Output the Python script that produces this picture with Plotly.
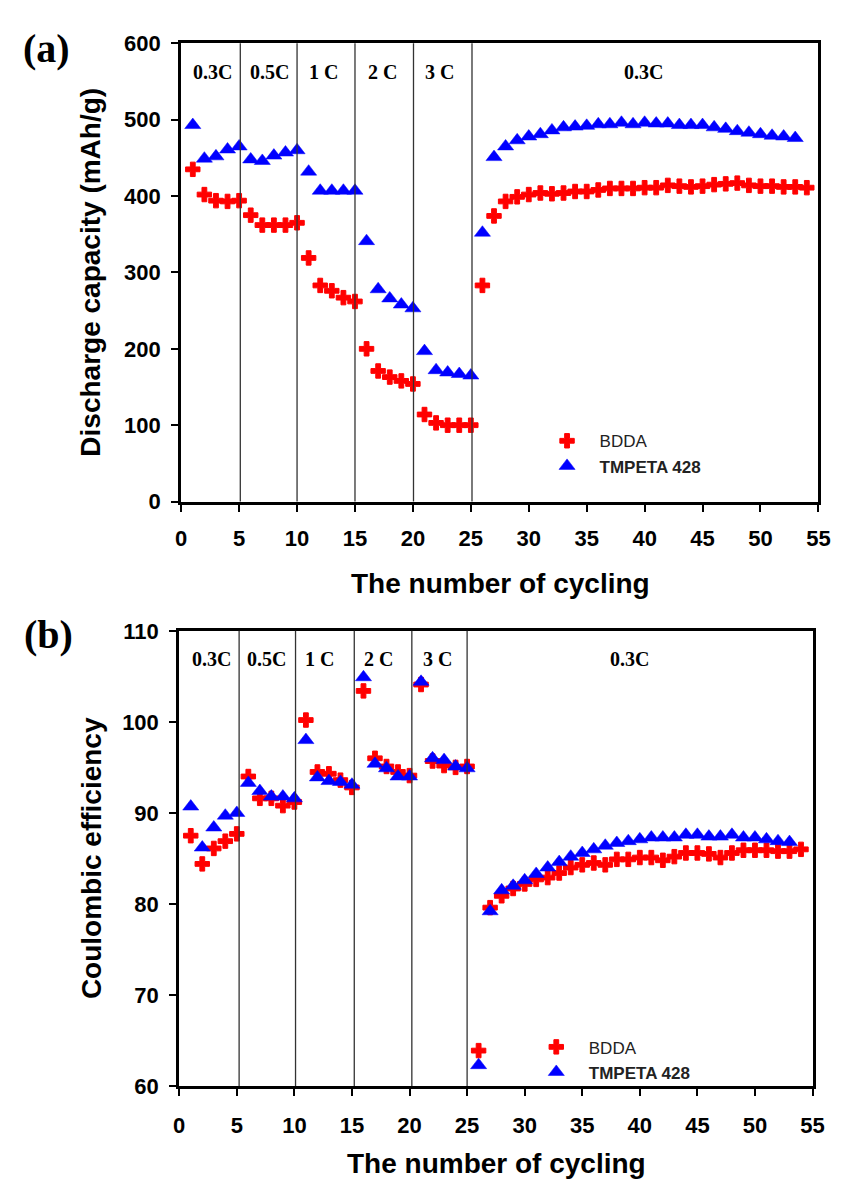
import plotly.graph_objects as go

# Cycle numbers
cycles_bdda = list(range(1, 55))
cycles_tmpeta = list(range(1, 54))

# (a) Discharge capacity, mAh/g
bdda_capacity = [435, 402, 394, 393, 394, 375, 362, 362, 362, 365,
                 319, 283, 276, 267, 262, 200, 171, 163, 158, 154,
                 114, 103, 100, 100, 100, 283, 374, 393, 399, 402,
                 404, 403, 404, 406, 406, 408, 410, 410, 410, 411,
                 411, 414, 413, 412, 413, 415, 416, 417, 414, 413,
                 413, 412, 412, 411]
tmpeta_capacity = [493, 449, 452, 461, 465, 448, 446, 453, 457, 460,
                   432, 407, 407, 407, 407, 341, 278, 266, 258, 253,
                   197, 172, 169, 167, 165, 352, 451, 465, 473, 478,
                   481, 486, 490, 491, 492, 494, 494, 496, 494, 496,
                   495, 495, 493, 493, 493, 490, 488, 485, 483, 481,
                   479, 478, 476]

# (b) Coulombic efficiency, %
bdda_ce = [87.5, 84.4, 86.1, 86.9, 87.7, 94.0, 91.6, 91.6, 90.8, 91.2,
           100.2, 94.5, 94.3, 93.6, 92.8, 103.4, 96.0, 95.1, 94.5, 94.1,
           104.1, 95.7, 95.2, 95.0, 95.1, 63.9, 79.6, 80.9, 81.7, 82.2,
           82.7, 82.9, 83.4, 84.0, 84.3, 84.5, 84.3, 84.9, 84.9, 85.1,
           85.1, 84.8, 85.2, 85.6, 85.6, 85.5, 85.1, 85.6, 85.9, 85.9,
           85.9, 85.8, 85.8, 86.0]
tmpeta_ce = [90.7, 86.2, 88.4, 89.7, 90.0, 93.3, 92.4, 91.8, 91.8, 91.6,
             98.0, 93.9, 93.5, 93.4, 93.1, 104.9, 95.4, 94.9, 94.0, 94.0,
             104.4, 96.0, 95.8, 95.1, 94.9, 62.3, 79.2, 81.5, 82.0, 82.6,
             83.3, 84.0, 84.6, 85.2, 85.6, 86.0, 86.4, 86.7, 86.9, 87.1,
             87.3, 87.3, 87.3, 87.6, 87.6, 87.4, 87.4, 87.6, 87.3, 87.3,
             87.1, 86.9, 86.8]

# C-rate steps
rate_labels = ["0.3C", "0.5C", "1 C", "2 C", "3 C", "0.3C"]
rate_label_x_a = [2.7, 7.6, 12.3, 17.4, 22.3, 39.9]
rate_label_x_b = [2.8, 7.6, 12.2, 17.3, 22.4, 39.1]
step_bounds_a = [5.1, 10.0, 15.0, 20.05, 25.1]
step_bounds_b = [5.2, 10.1, 15.2, 20.2, 25.0]

x_ticks = list(range(0, 56, 5))
cap_ticks = list(range(0, 601, 100))
ce_ticks = list(range(60, 111, 10))

W, H = 849, 1198
RED, BLUE = "#FF0000", "#0000FF"
SANS = "Arial, Liberation Sans, sans-serif"
SERIF = "Times New Roman, Liberation Serif, serif"


def px_x(p):
    return p / W


def px_y(p):
    return 1 - p / H


fig = go.Figure()

red_marker = dict(symbol="cross", size=12, color=RED, line=dict(color=RED, width=1))
blue_marker = dict(symbol="triangle-up", size=14, color=BLUE, line=dict(color=BLUE, width=0.5))

fig.add_trace(go.Scatter(x=cycles_bdda, y=bdda_capacity, mode="markers", name="BDDA",
                         marker=red_marker, xaxis="x", yaxis="y", legend="legend"))
fig.add_trace(go.Scatter(x=cycles_tmpeta, y=tmpeta_capacity, mode="markers",
                         name="<b>TMPETA 428</b>", marker=blue_marker,
                         xaxis="x", yaxis="y", legend="legend"))
fig.add_trace(go.Scatter(x=cycles_bdda, y=bdda_ce, mode="markers", name="BDDA",
                         marker=red_marker, xaxis="x2", yaxis="y2", legend="legend2"))
fig.add_trace(go.Scatter(x=cycles_tmpeta, y=tmpeta_ce, mode="markers",
                         name="<b>TMPETA 428</b>", marker=blue_marker,
                         xaxis="x2", yaxis="y2", legend="legend2"))

axis_common = dict(
    showline=True, linecolor="black", linewidth=3, mirror=True,
    ticks="outside", ticklen=7, tickwidth=2, tickcolor="black",
    showgrid=False, zeroline=False,
    tickfont=dict(family=SANS, size=22, color="black", weight="bold"),
)

legend_font = dict(family=SANS, size=17, color="#222")

fig.update_layout(
    width=W, height=H,
    margin=dict(l=0, r=0, t=0, b=0),
    paper_bgcolor="white", plot_bgcolor="white",
    xaxis=dict(axis_common, domain=[px_x(179), px_x(830)], range=[0, 55],
               tickvals=x_ticks, anchor="y", ticklabelstandoff=8),
    yaxis=dict(axis_common, domain=[px_y(500), px_y(32)], range=[0, 600],
               tickvals=cap_ticks, anchor="x", ticklabelstandoff=6),
    xaxis2=dict(axis_common, domain=[px_x(177), px_x(824)], range=[0, 55],
                tickvals=x_ticks, anchor="y2", ticklabelstandoff=10),
    yaxis2=dict(axis_common, domain=[px_y(1097), px_y(632)], range=[60, 110],
                tickvals=ce_ticks, anchor="x2", ticklabelstandoff=6),
    legend=dict(x=px_x(540), y=px_y(420), xanchor="left", yanchor="top",
                bgcolor="rgba(0,0,0,0)", itemwidth=55, font=legend_font),
    legend2=dict(x=px_x(529), y=px_y(1039), xanchor="left", yanchor="top",
                 bgcolor="rgba(0,0,0,0)", itemwidth=55, font=legend_font),
)

# Rate-step separators
for xb in step_bounds_a:
    fig.add_shape(type="line", xref="x", yref="y domain", x0=xb, x1=xb, y0=0, y1=1,
                  line=dict(color="#333333", width=1.3))
for xb in step_bounds_b:
    fig.add_shape(type="line", xref="x2", yref="y2 domain", x0=xb, x1=xb, y0=0, y1=1,
                  line=dict(color="#333333", width=1.3))

# Rate labels
for lab, xl in zip(rate_labels, rate_label_x_a):
    fig.add_annotation(x=xl, y=562, xref="x", yref="y", text=f"<b>{lab}</b>",
                       showarrow=False, font=dict(family=SERIF, size=20, color="black"))
for lab, xl in zip(rate_labels, rate_label_x_b):
    fig.add_annotation(x=xl, y=106.9, xref="x2", yref="y2", text=f"<b>{lab}</b>",
                       showarrow=False, font=dict(family=SERIF, size=20, color="black"))

# Axis titles
title_font = dict(family=SANS, size=28, color="black", weight="bold")
centered = dict(xref="paper", yref="paper", xanchor="center", yanchor="middle",
                showarrow=False)
fig.add_annotation(x=px_x(505), y=px_y(584), text="The number of cycling",
                   font=title_font, **centered)
fig.add_annotation(x=px_x(501), y=px_y(1176), text="The number of cycling",
                   font=title_font, **centered)
fig.add_annotation(x=px_x(86), y=px_y(266), textangle=-90,
                   text="Discharge capacity (mAh/g)", font=title_font, **centered)
fig.add_annotation(x=px_x(88), y=px_y(864), textangle=-90,
                   text="Coulombic efficiency", font=title_font, **centered)

# Panel tags
tag_font = dict(family=SERIF, size=40, color="black")
fig.add_annotation(x=px_x(41), y=px_y(37), text="<b>(a)</b>", font=tag_font, **centered)
fig.add_annotation(x=px_x(43), y=px_y(636), text="<b>(b)</b>", font=tag_font, **centered)

fig.write_html("out.html")
